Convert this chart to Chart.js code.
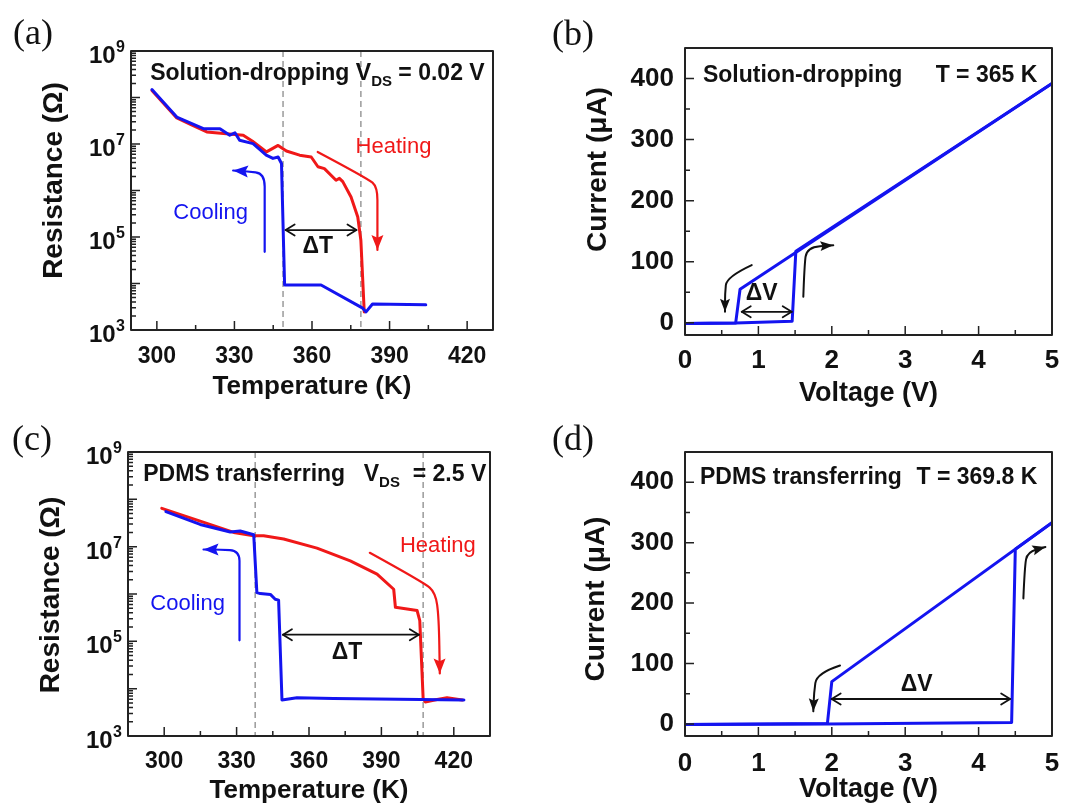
<!DOCTYPE html>
<html><head><meta charset="utf-8">
<script src="https://cdn.jsdelivr.net/npm/chart.js@4.4.1/dist/chart.umd.min.js"></script>
<style>
html,body{margin:0;padding:0;background:#fff;}
#wrap{position:relative;width:1074px;height:805px;overflow:hidden;background:#fff;}
.pn{position:absolute;}
.pn canvas{display:block;}
.lbl{position:absolute;font-family:"Liberation Serif","Times New Roman",serif;font-size:36px;line-height:1;color:#111;}
</style></head><body>
<div id="wrap">
  <div class="pn" style="left:0;top:0;"><canvas id="ca" width="537" height="410"></canvas></div>
  <div class="pn" style="left:537px;top:0;"><canvas id="cb" width="537" height="410"></canvas></div>
  <div class="pn" style="left:0;top:405px;"><canvas id="cc" width="537" height="400"></canvas></div>
  <div class="pn" style="left:537px;top:405px;"><canvas id="cd" width="537" height="400"></canvas></div>
  <div class="lbl" style="left:13px;top:14px;">(a)</div>
  <div class="lbl" style="left:552px;top:15px;">(b)</div>
  <div class="lbl" style="left:12px;top:420px;">(c)</div>
  <div class="lbl" style="left:552px;top:420px;">(d)</div>
</div>
<script>
const FONT = '"Liberation Sans", Arial, Helvetica, sans-serif';
const BLUE = '#1414f0';
const RED = '#f01818';
const INK = '#111';

// ---------- Panel (a): solution-dropping, R vs T ----------
const aCoolT = [298.1, 307.7, 318, 324.4, 328.2, 330.2, 332, 337.2, 342.3, 344.9, 346.9, 348.2, 349.4, 363.5, 379.6, 380.9, 383.4, 404];
const aCoolR = [1.48e8, 3.8e7, 2.14e7, 2.14e7, 1.55e7, 1.74e7, 1.2e7, 1.02e7, 5.75e6, 4.9e6, 5.25e6, 3.8e6, 9.3e3, 9.3e3, 2.95e3, 2.45e3, 3.63e3, 3.47e3];
const aHeatT = [298.1, 307.7, 313, 319.3, 333.4, 337, 342.4, 346.9, 350.1, 355.2, 359.7, 362.3, 364.8, 369.3, 370.6, 371.9, 375.1, 377.7, 378.9, 380.2];
const aHeatR = [1.41e8, 3.63e7, 2.63e7, 1.82e7, 1.55e7, 1.15e7, 6.76e6, 9.33e6, 7.08e6, 5.75e6, 5.25e6, 3.24e6, 2.95e6, 1.66e6, 1.82e6, 1.55e6, 7.24e5, 2.69e5, 8.51e4, 2.45e3];
const aTransitions = [348.8, 378.9];

// ---------- Panel (b): solution-dropping, I vs V ----------
const bUpV = [0, 0.69, 1.46, 1.51, 5];
const bUpI = [-1, -0.5, 2.5, 117, 392];
const bDownV = [5, 0.75, 0.69, 0];
const bDownI = [392, 55, -0.5, -1];

// ---------- Panel (c): PDMS transferring, R vs T ----------
const cCoolT = [300.7, 314.9, 327.4, 331.5, 337.1, 338.4, 339.8, 344, 346, 347.4, 348.8, 355, 370.2, 424.2];
const cCoolR = [5.5e7, 2.95e7, 2.04e7, 2.14e7, 1.78e7, 1.07e6, 1.02e6, 9.8e5, 7.76e5, 7.41e5, 5.75e3, 6.46e3, 6.17e3, 5.75e3];
const cHeatT = [299, 314.9, 328.8, 337.1, 341.2, 349.5, 363.3, 377.1, 388.2, 395.1, 395.8, 404.8, 405.9, 407.3, 408.2, 413.1, 417.2, 423.5];
const cHeatR = [6.46e7, 3.47e7, 2.0e7, 1.7e7, 1.7e7, 1.45e7, 9.33e6, 5.0e6, 2.63e6, 1.26e6, 5.25e5, 4.47e5, 2.75e5, 6.17e3, 5.25e3, 5.89e3, 6.46e3, 5.75e3];
const cTransitions = [337.7, 407.3];

// ---------- Panel (d): PDMS transferring, I vs V ----------
const dUpV = [0, 1.94, 4.45, 4.5, 5];
const dUpI = [-1, 0, 2.5, 289, 333];
const dDownV = [5, 2.0, 1.94, 0];
const dDownI = [333, 70, 0.5, -1];

// ---------- Ticks ----------
const tempTicks = [300, 330, 360, 390, 420];
const tempMinor = [315, 345, 375, 405];
const resLabelTicks = [1e3, 1e5, 1e7, 1e9];
const voltTicks = [0, 1, 2, 3, 4, 5];
const voltMinor = [0.5, 1.5, 2.5, 3.5, 4.5];
const currTicks = [0, 100, 200, 300, 400];
const currMinor = [50, 150, 250, 350];

function logMajor(){ const r=[]; for(let n=3;n<=9;n++) r.push(Math.pow(10,n)); return r; }
function logMinor(){ const r=[]; for(let n=3;n<9;n++) for(let k=2;k<=9;k++) r.push(k*Math.pow(10,n)); return r; }

const xy = (xs, ys) => xs.map((x, i) => ({x: x, y: ys[i]}));
function ds(xs, ys, color){
  return {data: xy(xs, ys), borderColor: color, backgroundColor: color, borderWidth: 3,
          pointRadius: 0, showLine: true, fill: false, tension: 0, borderJoinStyle: 'round', borderCapStyle: 'round'};
}

function setFont(ctx, size, weight){ ctx.font = weight + ' ' + size + 'px ' + FONT; }

function drawParts(ctx, x, y, parts, align, color){
  let total = 0; const ws = [];
  parts.forEach(p => { setFont(ctx, p[1], p[2]); const w = ctx.measureText(p[0]).width; ws.push(w); total += w; });
  if (align === 'right') x -= total; else if (align === 'center') x -= total/2;
  ctx.fillStyle = color || INK; ctx.textAlign = 'left';
  parts.forEach((p, i) => { setFont(ctx, p[1], p[2]); ctx.fillText(p[0], x, y + (p[3]||0)); x += ws[i]; });
}

function smoothPath(ctx, P){
  ctx.beginPath(); ctx.moveTo(P[0][0], P[0][1]);
  for (let i = 1; i < P.length - 1; i++){
    const mx = (P[i][0] + P[i+1][0]) / 2, my = (P[i][1] + P[i+1][1]) / 2;
    ctx.quadraticCurveTo(P[i][0], P[i][1], mx, my);
  }
  ctx.lineTo(P[P.length-1][0], P[P.length-1][1]);
  ctx.stroke();
}
function filledHead(ctx, from, to, len, w, color){
  const ang = Math.atan2(to[1]-from[1], to[0]-from[0]);
  ctx.save(); ctx.translate(to[0], to[1]); ctx.rotate(ang);
  ctx.fillStyle = color; ctx.beginPath();
  ctx.moveTo(0,0); ctx.lineTo(-len, w/2); ctx.lineTo(-len*0.82, 0); ctx.lineTo(-len, -w/2); ctx.closePath(); ctx.fill();
  ctx.restore();
}
function openHead(ctx, tip, dir, len, hw){
  ctx.beginPath();
  ctx.moveTo(tip[0] - dir*len, tip[1] - hw); ctx.lineTo(tip[0], tip[1]); ctx.lineTo(tip[0] - dir*len, tip[1] + hw);
  ctx.stroke();
}

function makeDeco(cfg){
  return {
    id: 'deco_' + cfg.id,
    beforeDatasetsDraw(chart){
      const {ctx, chartArea: a} = chart; const xs = chart.scales.x;
      ctx.save();
      ctx.strokeStyle = '#9a9a9a'; ctx.lineWidth = 1.5; ctx.setLineDash([6, 4]);
      (cfg.dashes || []).forEach(v => { const p = xs.getPixelForValue(v); ctx.beginPath(); ctx.moveTo(p, a.top); ctx.lineTo(p, a.bottom); ctx.stroke(); });
      ctx.restore();
    },
    afterDatasetsDraw(chart){
      const {ctx, chartArea: a} = chart; const xs = chart.scales.x, ys = chart.scales.y;
      const P = (pt) => [xs.getPixelForValue(pt[0]), ys.getPixelForValue(pt[1])];
      ctx.save();
      (cfg.arrows || []).forEach(ar => {
        const pts = ar.pts.map(P);
        ctx.strokeStyle = ar.color; ctx.lineWidth = ar.width; ctx.lineCap = 'round'; ctx.lineJoin = 'round';
        smoothPath(ctx, pts);
        filledHead(ctx, pts[pts.length-2], pts[pts.length-1], ar.hl, ar.hw, ar.color);
      });
      (cfg.spans || []).forEach(s => {
        const p1 = P([s.from, s.y]), p2 = P([s.to, s.y]);
        ctx.strokeStyle = INK; ctx.lineWidth = 1.8; ctx.lineCap = 'round';
        ctx.beginPath(); ctx.moveTo(p1[0], p1[1]); ctx.lineTo(p2[0], p2[1]); ctx.stroke();
        openHead(ctx, p1, -1, 9, 5.5); openHead(ctx, p2, 1, 9, 5.5);
      });
      (cfg.texts || []).forEach(t => {
        const p = P(t.at);
        ctx.textBaseline = t.baseline || 'alphabetic';
        drawParts(ctx, p[0], p[1], t.parts, t.align, t.color);
      });
      // frame and inward ticks
      ctx.strokeStyle = '#222'; ctx.lineWidth = 1.5; ctx.lineCap = 'butt';
      ctx.beginPath();
      cfg.xMajor.forEach(v => { const p = xs.getPixelForValue(v); ctx.moveTo(p, a.bottom); ctx.lineTo(p, a.bottom - 9); });
      cfg.xMinor.forEach(v => { const p = xs.getPixelForValue(v); ctx.moveTo(p, a.bottom); ctx.lineTo(p, a.bottom - 5); });
      cfg.yMajor.forEach(v => { const p = ys.getPixelForValue(v); ctx.moveTo(a.left, p); ctx.lineTo(a.left + 9, p); });
      cfg.yMinor.forEach(v => { const p = ys.getPixelForValue(v); ctx.moveTo(a.left, p); ctx.lineTo(a.left + 5, p); });
      ctx.stroke();
      ctx.lineWidth = 2;
      ctx.strokeRect(a.left, a.top, a.right - a.left, a.bottom - a.top);
      // log tick labels: 10 with superscript exponent
      if (cfg.logLabels){
        ctx.fillStyle = INK; ctx.textBaseline = 'alphabetic';
        cfg.logLabels.forEach(v => {
          const p = ys.getPixelForValue(v);
          const e = String(Math.round(Math.log10(v)));
          setFont(ctx, 16, 'bold'); const we = ctx.measureText(e).width;
          const xr = a.left - 6;
          ctx.textAlign = 'left'; ctx.fillText(e, xr - we, p + 1);
          setFont(ctx, 24, 'bold'); ctx.textAlign = 'right'; ctx.fillText('10', xr - we - 0.5, p + 12);
        });
      }
      // rotated y-axis title
      if (cfg.yTitle){
        ctx.save();
        ctx.translate(cfg.yTitle.cx, (a.top + a.bottom) / 2 + cfg.yTitle.dy);
        ctx.rotate(-Math.PI / 2);
        setFont(ctx, 28, 'bold'); ctx.fillStyle = INK; ctx.textAlign = 'center'; ctx.textBaseline = 'middle';
        ctx.fillText(cfg.yTitle.text, 0, 0);
        ctx.restore();
      }
      ctx.restore();
    }
  };
}

function makeChart(id, o){
  const yScale = o.log ? {
      type: 'logarithmic', min: 1e3, max: 1e9,
      afterFit: (s) => { s.width = o.yW; },
      grid: {display: false, drawTicks: false}, border: {display: false},
      ticks: {display: false},
      title: {display: false}
    } : {
      type: 'linear', min: -20, max: 450,
      afterBuildTicks: (s) => { s.ticks = currTicks.map(v => ({value: v})); },
      afterFit: (s) => { s.width = o.yW; },
      grid: {display: false, drawTicks: false}, border: {display: false},
      ticks: {color: INK, font: {family: FONT, size: o.tickSize, weight: 'bold'}, padding: 11},
      title: {display: false}
    };
  return new Chart(document.getElementById(id), {
    type: 'scatter',
    data: {datasets: o.datasets},
    options: {
      responsive: false, animation: false, maintainAspectRatio: false,
      layout: {padding: o.pad},
      plugins: {legend: {display: false}, tooltip: {enabled: false}},
      scales: {
        x: {
          type: 'linear', min: o.xMin, max: o.xMax,
          afterBuildTicks: (s) => { s.ticks = o.xTicks.map(v => ({value: v})); },
          afterFit: (s) => { s.height = o.xH; },
          grid: {display: false, drawTicks: false}, border: {display: false},
          ticks: {color: INK, font: {family: FONT, size: o.tickSize, weight: 'bold'}, padding: o.xTickPad, maxRotation: 0, autoSkip: false},
          title: {display: true, text: o.xTitle, color: INK, font: {family: FONT, size: o.xTitleSize, weight: 'bold', lineHeight: 1}, padding: {top: 0, bottom: o.xTitlePad}}
        },
        y: yScale
      }
    },
    plugins: [makeDeco(o.deco)]
  });
}

const B = 23;
// (a)
makeChart('ca', {
  log: true, xMin: 290, xMax: 430, xTicks: tempTicks, tickSize: 23,
  pad: {left: 0, right: 44, top: 51, bottom: 0}, yW: 131, xH: 80, xTickPad: 13, xTitlePad: 10, xTitleSize: 26,
  xTitle: 'Temperature (K)',
  datasets: [ds(aCoolT, aCoolR, BLUE), ds(aHeatT, aHeatR, RED)],
  deco: {
    id: 'a', dashes: aTransitions, xMajor: tempTicks, xMinor: tempMinor, yMajor: logMajor(), yMinor: logMinor(), logLabels: resLabelTicks,
    yTitle: {text: 'Resistance (Ω)', cx: 54, dy: -10},
    arrows: [
      {pts: [[341.7, 4.79e4], [341.7, 6.3e5], [341.7, 2.34e6], [334.7, 2.57e6], [329.5, 2.69e6]], color: BLUE, width: 2.2, hl: 15, hw: 12},
      {pts: [[362.2, 6.76e6], [381.5, 1.82e6], [385.3, 1.2e6], [385.3, 3.24e5], [385.3, 5.25e4]], color: RED, width: 2.2, hl: 15, hw: 12}
    ],
    spans: [{from: 349.8, to: 377.2, y: 1.41e5}],
    texts: [
      {at: [297.4, 2.38e8], align: 'left', parts: [['Solution-dropping V', B, 'bold'], ['DS', 15, 'bold', 6], [' = 0.02 V', B, 'bold']]},
      {at: [320.8, 3.24e5], align: 'center', baseline: 'middle', color: BLUE, parts: [['Cooling', 22, 'normal']]},
      {at: [391.5, 8.71e6], align: 'center', baseline: 'middle', color: RED, parts: [['Heating', 22, 'normal']]},
      {at: [362.2, 6.17e4], align: 'center', baseline: 'middle', parts: [['ΔT', B, 'bold']]}
    ]
  }
});
// (b)
makeChart('cb', {
  log: false, xMin: 0, xMax: 5, xTicks: voltTicks, tickSize: 26,
  pad: {left: 0, right: 22, top: 48, bottom: 0}, yW: 148, xH: 75, xTickPad: 10, xTitlePad: 3, xTitleSize: 27,
  xTitle: 'Voltage (V)',
  datasets: [ds(bUpV, bUpI, BLUE), ds(bDownV, bDownI, BLUE)],
  deco: {
    id: 'b', xMajor: voltTicks, xMinor: voltMinor, yMajor: currTicks, yMinor: currMinor,
    yTitle: {text: 'Current (μA)', cx: 61, dy: -22},
    arrows: [
      {pts: [[0.909, 94.4], [0.568, 75.3], [0.545, 48], [0.545, 18]], color: INK, width: 2, hl: 13, hw: 10},
      {pts: [[1.612, 42.6], [1.626, 91.6], [1.658, 124], [2.02, 127]], color: INK, width: 2, hl: 13, hw: 10}
    ],
    spans: [{from: 0.773, to: 1.454, y: 18}],
    texts: [
      {at: [0.245, 395], align: 'left', parts: [['Solution-dropping', B, 'bold']]},
      {at: [4.8, 395], align: 'right', parts: [['T = 365 K', B, 'bold']]},
      {at: [1.045, 48], align: 'center', baseline: 'middle', parts: [['ΔV', B, 'bold']]}
    ]
  }
});
// (c)
makeChart('cc', {
  log: true, xMin: 285, xMax: 435, xTicks: tempTicks, tickSize: 23,
  pad: {left: 0, right: 47, top: 47, bottom: 0}, yW: 128, xH: 69, xTickPad: 12, xTitlePad: 1, xTitleSize: 26,
  xTitle: 'Temperature (K)',
  datasets: [ds(cCoolT, cCoolR, BLUE), ds(cHeatT, cHeatR, RED)],
  deco: {
    id: 'c', dashes: cTransitions, xMajor: tempTicks, xMinor: tempMinor, yMajor: logMajor(), yMinor: logMinor(), logLabels: resLabelTicks,
    yTitle: {text: 'Resistance (Ω)', cx: 51, dy: 1},
    arrows: [
      {pts: [[331.2, 1.05e5], [331.2, 3.09e6], [331.2, 8.13e6], [323.2, 8.71e6], [316.3, 8.71e6]], color: BLUE, width: 2.2, hl: 15, hw: 12},
      {pts: [[385.2, 7.41e6], [407.6, 1.74e6], [412.4, 1.07e6], [413.8, 3.24e5], [414.2, 2.09e4]], color: RED, width: 2.2, hl: 15, hw: 12}
    ],
    spans: [{from: 349.2, to: 405.5, y: 1.38e5}],
    texts: [
      {at: [291.3, 2.4e8], align: 'left', parts: [['PDMS transferring', B, 'bold']]},
      {at: [382.7, 2.4e8], align: 'left', parts: [['V', B, 'bold'], ['DS', 15, 'bold', 6], ['  = 2.5 V', B, 'bold']]},
      {at: [309.7, 6.17e5], align: 'center', baseline: 'middle', color: BLUE, parts: [['Cooling', 22, 'normal']]},
      {at: [413.4, 1.02e7], align: 'center', baseline: 'middle', color: RED, parts: [['Heating', 22, 'normal']]},
      {at: [375.8, 5.89e4], align: 'center', baseline: 'middle', parts: [['ΔT', B, 'bold']]}
    ]
  }
});
// (d)
makeChart('cd', {
  log: false, xMin: 0, xMax: 5, xTicks: voltTicks, tickSize: 26,
  pad: {left: 0, right: 22, top: 47, bottom: 0}, yW: 148, xH: 69, xTickPad: 12, xTitlePad: 2, xTitleSize: 27,
  xTitle: 'Voltage (V)',
  datasets: [ds(dUpV, dUpI, BLUE), ds(dDownV, dDownI, BLUE)],
  deco: {
    id: 'd', xMajor: voltTicks, xMinor: voltMinor, yMajor: currTicks, yMinor: currMinor,
    yTitle: {text: 'Current (μA)', cx: 59, dy: 5},
    arrows: [
      {pts: [[2.112, 96.6], [1.794, 84], [1.757, 51], [1.748, 20.8]], color: INK, width: 2, hl: 13, hw: 10},
      {pts: [[4.61, 207.7], [4.628, 260], [4.665, 284.6], [4.91, 292.8]], color: INK, width: 2, hl: 13, hw: 10}
    ],
    spans: [{from: 1.998, to: 4.43, y: 41.2}],
    texts: [
      {at: [0.204, 397], align: 'left', parts: [['PDMS transferring', B, 'bold']]},
      {at: [4.8, 397], align: 'right', parts: [['T = 369.8 K', B, 'bold']]},
      {at: [3.157, 64.8], align: 'center', baseline: 'middle', parts: [['ΔV', B, 'bold']]}
    ]
  }
});
</script>
</body></html>
